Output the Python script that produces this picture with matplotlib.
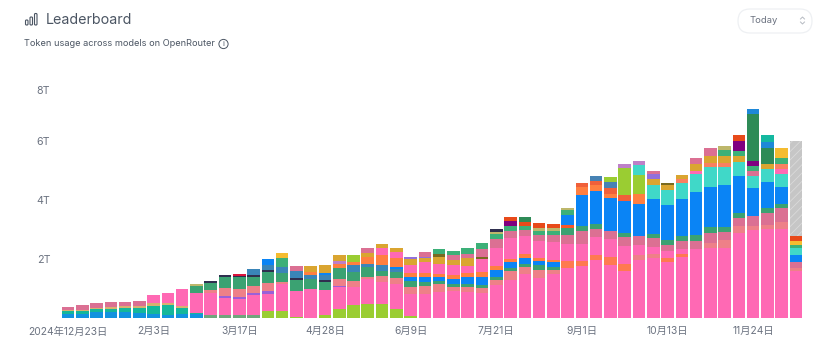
import numpy as np
import matplotlib
matplotlib.use("Agg")
import matplotlib.pyplot as plt
from matplotlib.patches import FancyBboxPatch, Circle

plt.rcParams["font.family"] = ["Inter", "Noto Sans CJK SC", "DejaVu Sans"]
plt.rcParams["hatch.linewidth"] = 0.6

#%%
# -- data (trillions of tokens, bottom of stack first) --
blue0 = [.14,.14,.2,.2,.2,.17,.14,.10,.14,.14] + [0]*42
green0 = [.10,.10,.10,.10,.14,.17,.27,.34,.2,.03] + [0]*42
tan_low = [.03,.03,.03,.07,.07,.07,.10,.07,.07] + [0]*43
sage = [0]*10 + [.10,.10,.10,.10] + [0]*38
yellowgreen = [0]*14 + [.24,.24,.03,0,.10,.31,.44,.47,.47,.31,.07] + [0]*27
pink = [0]*6 + [.27,.34,.58,.68,.75,.58,.54,.68,.58,.92,.88,.98,.85,.75,.61,.85,.75,.85,.75,.81,.88,.92,.88,.85,
                1.12,1.29,1.49,1.36,1.49,1.69,1.76,1.97,1.8,1.59,1.97,2.03,1.9,2.07,2.34,2.37,2.37,2.88,2.98,3.02,3.02,1.59]
purple_thin = [0]*11 + [.07,.07,.07,.10,0,0,0,0,.03] + [0]*32
salmon = [0]*10 + [.10,.27,.27,.24,.27,.07,0,0,0,.24,.2,.07,.2,.2,.24,.27,.27,.14,.17,.17,.17,.31,.24,.27,.14,
                   0,0,0,0,0,.17,.14,0,0,0,.17,.27,.24,.14,.14,.24,.10]
orange_low = [0]*35 + [.24,.17,.17,.27,.24,0,0,.14,.10] + [0]*8
pink2 = [0]*35 + [.58,.58,.61,.61,.61,.34,.24,.24,.17] + [0]*8
muted = [.10,.17,.17,.17,.14,.17] + [0]*29 + [.31,.44,.27,.27,.31,.31,.31,.2,.27,.27,.34,.27,.27,.34,.41,.47,.2]
green = [0]*9 + [.24,.24,.37,.41,.31,.37,.31,.37,.34,.27,.37,.31,.34,.17,.2,.2,.14,.10,.10,.10,.10,.10,.10,.10,.17,.10,
                 .24,.17,.17,0,.14,0,.14,.17,.17,.2,.2,.17,.17,0,.17,.14,0]
dark = [0]*10 + [.07,.07,.03,.07,.07,0,.07,0,.07] + [0]*33
crimson = [0]*12 + [.07] + [0]*39
steel_low = [0]*13 + [.2,.17,.2,.24,.14,.17,0,.24,.10,.2,.10] + [0]*28
orangered_low = [0]*35 + [.10] + [0]*16
blue = [0]*14 + [.2,0,0,0,.07,0,0,0,0,.07,.14,.17,.14,.17,.24,.27,.24,.2,.2,.14,.17,.34,
                 1.05,1.12,1.12,1.08,1.08,1.19,1.19,1.25,1.46,1.36,1.42,1.25,.95,.88,.58,.24]
orange = [0]*17 + [.10,0,.14,.10,.24,.34,.31,.14,.14,.10,.14,.14,.17,.14,.10,.14,.10,.07,0,.27,.2,.14,0,.34] + [0]*11
orangered = [0]*36 + [.14,.14,.2,.2] + [0]*12
steel = [0]*37 + [.17,.2] + [0]*13
yellowgreen2 = [0]*20 + [.24] + [0]*17 + [.17,.92,.65] + [0]*11
teal = [0]*40 + [.31,.47,.51,.54,.61,.68,.61,.47,.41,.44,.44,.24]
orchid = [0]*19 + [.10] + [0]*19 + [.14,.14] + [0]*11
pink3 = [0]*22 + [.24,.2,.27,.37,.34,.34,.24,.44,.61,.71,.61,.58,.61] + [0]*9 + [.10] + [0]*5 + [.17,0]
coral = [0]*43 + [.14,0,.14,.14,0,0,0,.17,0]
goldenrod = [0]*17 + [.2,.27,.2,0,.14,.14,.14,.2,.14,.24,.17,.27] + [0]*12 + [.2,.17,.14,.24,.24,.24,.2,0,.17,0,0]
dark_olive = [0]*26 + [.10,0,0,.07] + [0]*12 + [.07] + [0]*9
mediumpurple = [0]*24 + [.07,.03] + [0]*15 + [.17] + [0]*10
muted_top = [0]*16 + [.17] + [0]*4 + [.17,0,0,0,.17,0,.14,.14,.27,.31,.24,.2,.2,.24] + [0]*6 + [.10,0,0,.2,.27,0,0,.17,0,0,0]
green_top = [0]*15 + [.31] + [0]*10 + [.17,.14,.2,.2,.17,.17,.14,.14,.14,.17] + [0]*10 + [.2,.17,.17,0,.2,.10]
khaki_top = [0]*9 + [.07] + [0]*20 + [.07,0,0,.10,.10,.07] + [0]*10 + [.14] + [0]*5
gold_top = [0]*15 + [.17] + [0]*34 + [.34,.14]
dark_cap = [0]*30 + [.10] + [0]*21
purple = [0]*31 + [.17] + [0]*15 + [.34,.17] + [0]*3
orangered2 = [0]*31 + [.14,.14,.17,.14] + [0]*12 + [.2] + [0]*3 + [.17]
seagreen_big = [0]*32 + [.17] + [0]*15 + [1.59,.54] + [0]*2
blue_top = [0]*48 + [.17,.2] + [0]*2
tealgreen_top = [0]*49 + [.24] + [0]*2
unfinished = [0]*51 + [3.22]

tick_labels_x = ["2024年12月23日", "2月3日", "3月17日", "4月28日", "6月9日", "7月21日", "9月1日", "10月13日", "11月24日"]
tick_labels_y = ["2T", "4T", "6T", "8T"]

#%%
# -- layers --
layers = [
    (blue0, "#1293DF"), (green0, "#14B79A"), (tan_low, "#D9B070"), (sage, "#6FA67C"),
    (yellowgreen, "#9ACD32"), (pink, "#FF69B4"), (purple_thin, "#9A60D8"), (salmon, "#EE8088"),
    (orange_low, "#FF7A50"), (pink2, "#FF69B4"), (muted, "#DB7093"), (green, "#3BA272"),
    (dark, "#2F2F4F"), (crimson, "#DC143C"), (steel_low, "#3A85B8"), (orangered_low, "#F4562A"),
    (blue, "#0A84F5"), (orange, "#FF7F40"), (orangered, "#F0603A"), (steel, "#4682B4"),
    (yellowgreen2, "#9ACD32"), (teal, "#40D8C8"), (orchid, "#BE80C8"), (pink3, "#FF69B4"),
    (coral, "#F98060"), (goldenrod, "#DAA530"), (dark_olive, "#7A6A20"), (mediumpurple, "#9370DB"),
    (muted_top, "#DB7093"), (green_top, "#3CB078"), (khaki_top, "#BDB76B"), (gold_top, "#F5BC30"),
    (dark_cap, "#2F2F4F"), (purple, "#800080"), (orangered2, "#E84A1A"), (seagreen_big, "#2E8B57"),
    (blue_top, "#1E88D8"), (tealgreen_top, "#14B8A0"),
]

for values, _ in layers:
    assert len(values) == 52
assert len(unfinished) == 52

W, H = 831, 352
fig = plt.figure(figsize=(W/100, H/100), dpi=100)

# baseline at pixel 318, 1T = 29.5 px
ax = fig.add_axes([55/W, (H-318)/H, (W-55-15)/W, 238/H])
x = np.arange(52)
bottom = np.zeros(52)
for values, color in layers:
    values = np.asarray(values, dtype=float)
    ax.bar(x, values, bottom=bottom, width=0.88, color=color, linewidth=0)
    bottom += values
ax.bar(x, unfinished, bottom=bottom, width=0.88, color="#C6C6C6", edgecolor="#DADADA", hatch="////", linewidth=0)

ax.set_xlim((55-68)/14.275, (W-15-68)/14.275)
ax.set_ylim(0, 238/29.5)
ax.set_xticks(x[::6], tick_labels_x)
# the 8T label sits lower than a linear axis would put it in the reference
ax.set_yticks([2, 4, 6, 7.73], tick_labels_y)
ax.tick_params(axis="x", length=0, pad=6, labelsize=7.4, labelcolor="#6B7280")
ax.tick_params(axis="y", length=0, pad=3.5, labelsize=7.7, labelcolor="#6B7280")
for spine in ax.spines.values():
    spine.set_visible(False)

#%%
# -- header --
top = fig.add_axes([0, 0, 1, 1], facecolor="none")
top.set_xlim(0, W)
top.set_ylim(H, 0)
top.axis("off")

top.text(46, 19.5, "Leaderboard", fontsize=10.3, color="#4B5563", va="center", ha="left")
top.text(24, 43.5, "Token usage across models on OpenRouter", fontsize=6.6, color="#4B5563", va="center", ha="left")

# bar icon
for bx, by, bh in [(25.5, 20, 5), (30, 17, 8), (34.5, 13.5, 11.5)]:
    top.add_patch(FancyBboxPatch((bx, by), 2.5, bh, boxstyle="round,pad=0,rounding_size=1",
                                 fc="none", ec="#4B5563", lw=0.8))

# info icon
top.add_patch(Circle((223.5, 44), 4.6, fc="none", ec="#4B5563", lw=0.7))
top.text(223.5, 44.2, "i", fontsize=5.5, color="#4B5563", va="center", ha="center")

# dropdown
top.add_patch(FancyBboxPatch((738, 9), 74, 24, boxstyle="round,pad=0,rounding_size=12",
                             fc="white", ec="#EEF0F3", lw=0.9))
top.text(750, 20.5, "Today", fontsize=6.8, color="#6B7280", va="center", ha="left")
top.plot([800.5, 802.5, 804.5], [19, 17, 19], color="#B5BAC2", lw=0.7)
top.plot([800.5, 802.5, 804.5], [22, 24, 22], color="#B5BAC2", lw=0.7)

fig.savefig("out.png", dpi=100)
